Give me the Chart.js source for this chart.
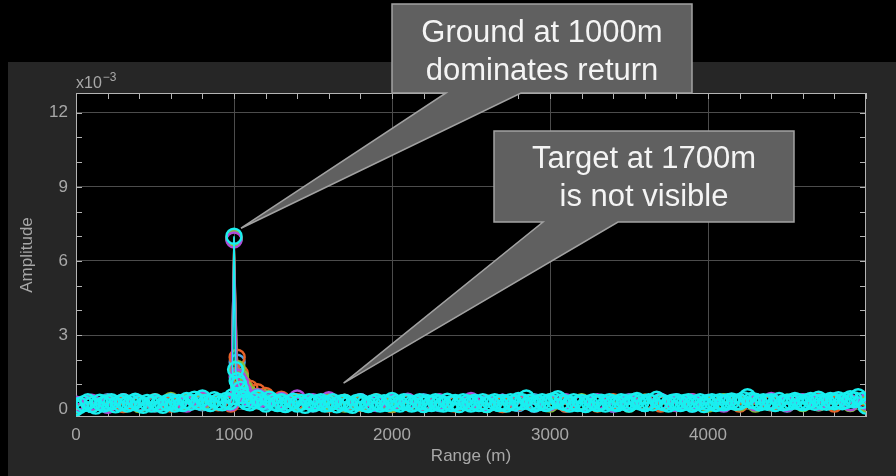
<!DOCTYPE html>
<html lang="en">
<head>
<meta charset="UTF-8">
<title>Range profile</title>
<script src="https://cdn.jsdelivr.net/npm/chart.js@4"></script>
<style>
  html, body { margin: 0; padding: 0; background: #000; }
  canvas { display: block; }
</style>
</head>
<body>
<canvas id="myChart" width="896" height="476"></canvas>
<script>
// fine range grid (m) for the top trace
const ranges = [
  0, 25, 50, 75, 100, 125, 150, 175, 200, 225,
  250, 275, 300, 325, 350, 375, 400, 425, 450, 475,
  500, 525, 550, 575, 600, 625, 650, 675, 700, 725,
  750, 775, 800, 825, 850, 875, 900, 925, 950,
  975, 990, 1000, 1010, 1020, 1030, 1040, 1050, 1060, 1075,
  1100, 1125, 1150, 1175, 1200, 1225, 1250, 1275, 1300, 1325, 1350, 1375, 1400, 1425, 1450, 1475, 1500, 1525, 1550, 1575,
  1600, 1625, 1650, 1675, 1700, 1725, 1750, 1775, 1800, 1825, 1850, 1875, 1900, 1925, 1950, 1975, 2000, 2025, 2050, 2075,
  2100, 2125, 2150, 2175, 2200, 2225, 2250, 2275, 2300, 2325, 2350, 2375, 2400, 2425, 2450, 2475, 2500, 2525, 2550, 2575,
  2600, 2625, 2650, 2675, 2700, 2725, 2750, 2775, 2800, 2825, 2850, 2875, 2900, 2925, 2950, 2975, 3000, 3025, 3050, 3075,
  3100, 3125, 3150, 3175, 3200, 3225, 3250, 3275, 3300, 3325, 3350, 3375, 3400, 3425, 3450, 3475, 3500, 3525, 3550, 3575,
  3600, 3625, 3650, 3675, 3700, 3725, 3750, 3775, 3800, 3825, 3850, 3875, 3900, 3925, 3950, 3975, 4000, 4025, 4050, 4075,
  4100, 4125, 4150, 4175, 4200, 4225, 4250, 4275, 4300, 4325, 4350, 4375, 4400, 4425, 4450, 4475, 4500, 4525, 4550, 4575,
  4600, 4625, 4650, 4675, 4700, 4725, 4750, 4775, 4800, 4825, 4850, 4875, 4900, 4925, 4950, 4975,
  5000
];
// amplitude x1e-3
const ampCyan = [
  0.05, 0.15, 0.22, 0.3, 0.18, 0.12, 0.28, 0.2, 0.25, 0.3,
  0.17, 0.24, 0.3, 0.2, 0.25, 0.32, 0.22, 0.15, 0.27, 0.2,
  0.3, 0.22, 0.15, 0.26, 0.3, 0.2, 0.27, 0.22, 0.35, 0.28,
  0.4, 0.3, 0.45, 0.28, 0.22, 0.38, 0.3, 0.25, 0.35,
  0.3, 0.5, 7.0, 1.6, 1.15, 1.0, 0.8, 0.55, 0.4, 0.3,
  0.25, 0.35, 0.45, 0.3, 0.2, 0.4, 0.28, 0.22, 0.3, 0.18, 0.25, 0.32, 0.2, 0.27, 0.15, 0.3, 0.22, 0.26, 0.3, 0.2,
  0.22, 0.3, 0.17, 0.25, 0.28, 0.2, 0.15, 0.27, 0.3, 0.22, 0.18, 0.25, 0.3, 0.2, 0.26, 0.22, 0.35, 0.25, 0.2, 0.3,
  0.28, 0.2, 0.24, 0.3, 0.18, 0.26, 0.22, 0.3, 0.25, 0.2, 0.32, 0.22, 0.27, 0.18, 0.3, 0.25, 0.2, 0.28, 0.22, 0.3,
  0.18, 0.25, 0.3, 0.22, 0.27, 0.2, 0.3, 0.25, 0.35, 0.3, 0.45, 0.28, 0.2, 0.25, 0.3, 0.22, 0.3, 0.35, 0.42, 0.3,
  0.25, 0.2, 0.3, 0.22, 0.27, 0.18, 0.25, 0.3, 0.22, 0.28, 0.2, 0.3, 0.25, 0.22, 0.3, 0.27, 0.2, 0.3, 0.35, 0.28,
  0.22, 0.3, 0.25, 0.4, 0.3, 0.25, 0.2, 0.28, 0.3, 0.22, 0.27, 0.3, 0.2, 0.25, 0.3, 0.18, 0.27, 0.3, 0.22, 0.3,
  0.25, 0.3, 0.33, 0.28, 0.3, 0.38, 0.5, 0.35, 0.32, 0.25, 0.3, 0.28, 0.3, 0.22, 0.35, 0.25, 0.28, 0.3, 0.35, 0.3,
  0.25, 0.3, 0.35, 0.28, 0.4, 0.3, 0.28, 0.35, 0.3, 0.38, 0.3, 0.35, 0.42, 0.38, 0.5, 0.35,
  0.12
];

// coarser grid for the traces underneath
const rangesCoarse = [
  0, 100, 200, 300, 400, 500, 600, 700, 800, 900,
  980, 1000, 1020, 1040, 1060, 1080, 1100,
  1150,
  1200, 1300, 1400, 1500, 1600, 1700, 1800, 1900, 2000, 2100,
  2200, 2300, 2400, 2500, 2600, 2700, 2800, 2900, 3000, 3100,
  3200, 3300, 3400, 3500, 3600, 3700, 3800, 3900, 4000, 4100,
  4200, 4300, 4400, 4500, 4600, 4700, 4800, 4900, 5000
];
const ampPurple = [
  0.2, 0.28, 0.15, 0.3, 0.22, 0.25, 0.3, 0.2, 0.38, 0.3,
  0.25, 6.85, 1.3, 1.1, 0.75, 0.5, 0.45,
  0.5,
  0.4, 0.35, 0.45, 0.3, 0.38, 0.25, 0.3, 0.22, 0.28, 0.32,
  0.2, 0.3, 0.25, 0.35, 0.22, 0.28, 0.3, 0.2, 0.26, 0.3,
  0.24, 0.3, 0.2, 0.28, 0.25, 0.32, 0.22, 0.3, 0.27, 0.2,
  0.3, 0.25, 0.35, 0.22, 0.3, 0.28, 0.33, 0.25, 0.3
];
const ampOrange = [
  0.15, 0.2, 0.25, 0.18, 0.22, 0.3, 0.2, 0.28, 0.35, 0.25,
  0.2, 6.95, 2.1, 1.45, 1.0, 0.8, 0.85,
  0.7,
  0.55, 0.4, 0.3, 0.25, 0.2, 0.28, 0.22, 0.3, 0.18, 0.25,
  0.22, 0.28, 0.2, 0.3, 0.25, 0.18, 0.27, 0.22, 0.3, 0.2,
  0.25, 0.2, 0.3, 0.22, 0.28, 0.2, 0.25, 0.3, 0.22, 0.27,
  0.2, 0.3, 0.25, 0.22, 0.28, 0.3, 0.2, 0.25, 0.15
];
const ampGreen = [
  0.18, 0.25, 0.2, 0.3, 0.18, 0.22, 0.35, 0.25, 0.3, 0.28,
  0.3, 6.9, 1.65, 1.3, 0.9, 0.65, 0.6,
  0.5,
  0.45, 0.3, 0.25, 0.22, 0.3, 0.2, 0.25, 0.28, 0.2, 0.3,
  0.2, 0.27, 0.22, 0.3, 0.18, 0.25, 0.3, 0.22, 0.2, 0.28,
  0.3, 0.22, 0.25, 0.2, 0.28, 0.3, 0.22, 0.25, 0.2, 0.3,
  0.25, 0.2, 0.3, 0.28, 0.22, 0.25, 0.3, 0.22, 0.2
];
const ampBlue = [
  0.2, 0.18, 0.3, 0.22, 0.25, 0.2, 0.3, 0.28, 0.25, 0.3,
  0.35, 6.9, 1.9, 1.2, 0.8, 0.55, 0.4,
  0.35,
  0.3, 0.25, 0.3, 0.2, 0.28, 0.22, 0.3, 0.25, 0.2, 0.27,
  0.3, 0.22, 0.25, 0.3, 0.2, 0.28, 0.22, 0.3, 0.25, 0.2,
  0.28, 0.25, 0.2, 0.3, 0.22, 0.27, 0.3, 0.2, 0.25, 0.28,
  0.22, 0.3, 0.25, 0.2, 0.28, 0.25, 0.3, 0.27, 0.2
];

const xTicks = [0, 1000, 2000, 3000, 4000];
const yTicks = [0, 3, 6, 9, 12];

const FONT = "'Liberation Sans', Arial, Helvetica, sans-serif";
const LABEL_GREY = '#a8a8a8';

function pts(xs, ys) {
  return xs.map((x, i) => ({ x: x, y: ys[i] }));
}

function trace(xs, ys, color) {
  return {
    data: pts(xs, ys),
    showLine: true,
    borderColor: color,
    borderWidth: 1.6,
    pointStyle: 'circle',
    pointRadius: 7.5,
    pointBorderWidth: 2.4,
    pointBorderColor: color,
    pointBackgroundColor: 'rgba(0,0,0,0)',
    pointHoverRadius: 7.5
  };
}

// callout boxes: box in px, tip anchored on data
const callouts = [
  { box: [392, 4, 692, 93], base: [446, 521], tip: [1000, 7.0], off: [7, -8],
    lines: ['Ground at 1000m', 'dominates return'], baselines: [42, 80] },
  { box: [494, 131, 794, 222], base: [543, 618], tip: [1700, 1.05], off: [-1, 0],
    lines: ['Target at 1700m', 'is not visible'], baselines: [168, 206] }
];

const decor = {
  id: 'decor',
  beforeDraw(chart) {
    const c = chart.ctx, a = chart.chartArea;
    c.save();
    c.fillStyle = '#000';
    c.fillRect(0, 0, chart.width, chart.height);
    c.fillStyle = '#262626';
    c.fillRect(8, 62, chart.width - 8, chart.height - 62);
    c.fillStyle = '#000';
    c.fillRect(a.left, a.top, a.right - a.left, a.bottom - a.top);
    c.restore();
  },
  beforeDatasetsDraw(chart) {
    const c = chart.ctx, a = chart.chartArea;
    const xs = chart.scales.x, ys = chart.scales.y;
    c.save();
    c.strokeStyle = '#b4b4b4';
    c.lineWidth = 1;
    c.strokeRect(a.left + 0.5, a.top + 0.5, a.right - a.left - 1, a.bottom - a.top - 1);
    c.beginPath();
    for (let v = 0; v <= 5000; v += 200) {
      const px = Math.round(xs.getPixelForValue(v)) + 0.5;
      c.moveTo(px, a.top); c.lineTo(px, a.top + 6);
      c.moveTo(px, a.bottom); c.lineTo(px, a.bottom - 6);
    }
    for (let v = 0; v <= 12; v += 1) {
      const py = Math.round(ys.getPixelForValue(v)) + 0.5;
      c.moveTo(a.left, py); c.lineTo(a.left + 6, py);
      c.moveTo(a.right, py); c.lineTo(a.right - 6, py);
    }
    c.stroke();
    c.restore();
  },
  afterDraw(chart) {
    const c = chart.ctx, a = chart.chartArea;
    const xs = chart.scales.x, ys = chart.scales.y;
    c.save();
    // exponent label
    c.fillStyle = LABEL_GREY;
    c.textBaseline = 'alphabetic';
    c.textAlign = 'left';
    c.font = '16px ' + FONT;
    c.fillText('x10', a.left, 88);
    const w = c.measureText('x10').width;
    c.font = '12px ' + FONT;
    c.fillText('\u22123', a.left + w + 1, 81);
    // axis titles
    c.font = '17px ' + FONT;
    c.textAlign = 'center';
    c.textBaseline = 'middle';
    c.fillText('Range (m)', (a.left + a.right) / 2, 456);
    c.translate(27, (a.top + a.bottom) / 2);
    c.rotate(-Math.PI / 2);
    c.fillText('Amplitude', 0, 0);
    c.restore();

    // callouts
    callouts.forEach(co => {
      const [x0, y0, x1, y1] = co.box;
      const tx = xs.getPixelForValue(co.tip[0]) + co.off[0];
      const ty = ys.getPixelForValue(co.tip[1]) + co.off[1];
      c.save();
      c.beginPath();
      c.moveTo(x0, y0);
      c.lineTo(x1, y0);
      c.lineTo(x1, y1);
      c.lineTo(co.base[1], y1);
      c.lineTo(tx, ty);
      c.lineTo(co.base[0], y1);
      c.lineTo(x0, y1);
      c.closePath();
      c.fillStyle = '#606060';
      c.fill();
      c.strokeStyle = '#a2a2a2';
      c.lineWidth = 1.5;
      c.lineJoin = 'miter';
      c.stroke();
      c.fillStyle = '#f4f4f4';
      c.font = '31px ' + FONT;
      c.textAlign = 'center';
      c.textBaseline = 'alphabetic';
      co.lines.forEach((t, i) => c.fillText(t, (x0 + x1) / 2, co.baselines[i]));
      c.restore();
    });
  }
};

const ctx = document.querySelector('#myChart');
new Chart(ctx, {
  type: 'scatter',
  data: {
    datasets: [
      trace(ranges, ampCyan, '#19f0f0'),
      trace(rangesCoarse, ampPurple, '#b04cd8'),
      trace(rangesCoarse, ampGreen, '#86c23a'),
      trace(rangesCoarse, ampOrange, '#e8632a'),
      trace(rangesCoarse, ampBlue, '#4aa8e8')
    ]
  },
  options: {
    responsive: false,
    animation: false,
    events: [],
    layout: { padding: { top: 93, right: 30, left: 0, bottom: 0 } },
    plugins: {
      legend: { display: false },
      tooltip: { enabled: false }
    },
    scales: {
      x: {
        type: 'linear',
        min: 0,
        max: 5000,
        afterFit: s => { s.height = 59; },
        afterBuildTicks: s => { s.ticks = xTicks.map(v => ({ value: v })); },
        grid: {
          color: g => (g.tick && g.tick.value === 0) ? 'rgba(0,0,0,0)' : '#4c4c4c',
          drawTicks: false
        },
        border: { display: false },
        ticks: {
          color: LABEL_GREY,
          font: { family: FONT, size: 17 },
          padding: 8,
          maxRotation: 0,
          autoSkip: false,
          callback: v => String(v)
        }
      },
      y: {
        min: -0.32,
        max: 12.8,
        afterFit: s => { s.width = 76; },
        afterBuildTicks: s => { s.ticks = yTicks.map(v => ({ value: v })); },
        grid: {
          color: '#4c4c4c',
          drawTicks: false
        },
        border: { display: false },
        ticks: {
          color: LABEL_GREY,
          font: { family: FONT, size: 17 },
          padding: 8,
          callback: v => String(v)
        }
      }
    }
  },
  plugins: [decor]
});
</script>
</body>
</html>
